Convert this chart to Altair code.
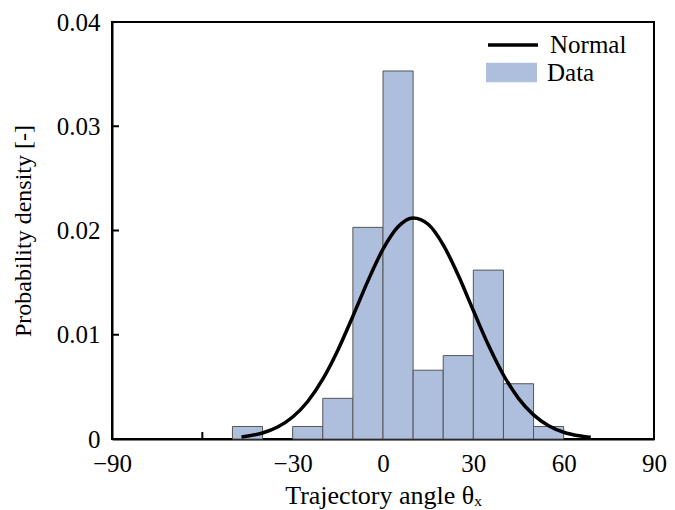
import altair as alt
import pandas as pd

# Histogram bins (start, end) and probability density
bin_start = [-50, -30, -20, -10, 0, 10, 20, 30, 40, 50]
bin_end = [-40, -20, -10, 0, 10, 20, 30, 40, 50, 60]
density = [0.0012, 0.0012, 0.0039, 0.0203, 0.0353, 0.0066, 0.0080, 0.0162, 0.0053, 0.0012]

# Normal curve
curve_x = [-47, -40, -35, -30, -25, -20, -15, -10, -5, 0, 5, 10, 15, 20, 25,
           30, 35, 40, 45, 50, 55, 60, 65, 69]
curve_y = [0.0002, 0.00058, 0.00115, 0.00211, 0.0036, 0.00574, 0.00852, 0.01178,
           0.01517, 0.01821, 0.02036, 0.02121, 0.0206, 0.01863, 0.0157, 0.01232,
           0.00901, 0.00614, 0.0039, 0.00231, 0.00127, 0.00065, 0.00031, 0.00016]

x_ticks = [-90, -30, 0, 30, 60, 90]
y_ticks = [0, 0.01, 0.02, 0.03, 0.04]
inner_y_ticks = [0.01, 0.02, 0.03]
inner_x_ticks = [-60]

FONT = "Liberation Serif"
W, H = 542, 417

bars_df = pd.DataFrame({"start": bin_start, "end": bin_end, "density": density,
                        "series": ["Data"] * len(density)})
curve_df = pd.DataFrame({"x": curve_x, "y": curve_y, "series": ["Normal"] * len(curve_x)})

x_scale = alt.Scale(domain=[-90, 90], nice=False, zero=False)
y_scale = alt.Scale(domain=[0, 0.04], nice=False)

x_axis = alt.Axis(values=x_ticks, title="Trajectory angle θₓ", labelFont=FONT,
                  labelFontSize=25, titleFont=FONT, titleFontSize=26,
                  titleFontWeight="normal", labelColor="black", titleColor="black",
                  tickSize=0, labelPadding=12, titlePadding=6, grid=False,
                  domainColor="black", domainWidth=2, labelFlush=False)
y_axis = alt.Axis(values=y_ticks, title="Probability density [-]", labelFont=FONT,
                  labelFontSize=25, titleFont=FONT, titleFontSize=24,
                  titleFontWeight="normal", labelColor="black", titleColor="black",
                  tickSize=0, labelPadding=12, titlePadding=21, grid=False,
                  domainColor="black", domainWidth=2, labelFlush=False,
                  labelExpr="datum.value == 0 ? '0' : format(datum.value, '.2f')")

ytick_df = pd.DataFrame({"y": inner_y_ticks})
xtick_df = pd.DataFrame({"x": inner_x_ticks})

ytick_layer = alt.Chart(ytick_df).mark_rule(color="black", strokeWidth=2).encode(
    y=alt.Y("y:Q", scale=y_scale, axis=y_axis),
    x=alt.value(0), x2=alt.value(7))
xtick_layer = alt.Chart(xtick_df).mark_rule(color="black", strokeWidth=2).encode(
    x=alt.X("x:Q", scale=x_scale, axis=x_axis),
    y=alt.value(H), y2=alt.value(H - 7))

bars = alt.Chart(bars_df).mark_bar(stroke="#555555", strokeWidth=1).encode(
    x=alt.X("start:Q", scale=x_scale, axis=x_axis),
    x2="end:Q",
    y=alt.Y("density:Q", scale=y_scale, axis=y_axis),
    y2=alt.datum(0),
    fill=alt.Fill("series:N", scale=alt.Scale(domain=["Data"], range=["#aebfde"]),
                  legend=alt.Legend(title=None, orient="none", legendX=374, legendY=25,
                                    symbolType="M-1,-0.38H1V0.38H-1Z", symbolSize=2601,
                                    symbolStrokeWidth=0, labelFont=FONT, labelFontSize=25,
                                    labelColor="black", labelOffset=10)),
)

curve = alt.Chart(curve_df).mark_line(strokeWidth=3.5, interpolate="monotone").encode(
    x=alt.X("x:Q", scale=x_scale, axis=x_axis),
    y=alt.Y("y:Q", scale=y_scale, axis=y_axis),
    stroke=alt.Stroke("series:N", scale=alt.Scale(domain=["Normal"], range=["black"]),
                      legend=alt.Legend(title=None, orient="none", legendX=374, legendY=-4,
                                        symbolType="stroke", symbolSize=2500,
                                        symbolStrokeWidth=3.5, labelFont=FONT,
                                        labelFontSize=25, labelColor="black",
                                        labelOffset=10)),
)

chart = alt.layer(ytick_layer, xtick_layer, bars, curve).resolve_legend(
    fill="independent", stroke="independent"
).properties(
    width=W, height=H,
    autosize=alt.AutoSizeParams(type="none"),
    padding={"left": 104, "top": 14, "right": 13, "bottom": 70},
).configure_view(stroke="black", strokeWidth=2)

chart.save("out.html", embed_options={"renderer": "svg", "actions": False})
